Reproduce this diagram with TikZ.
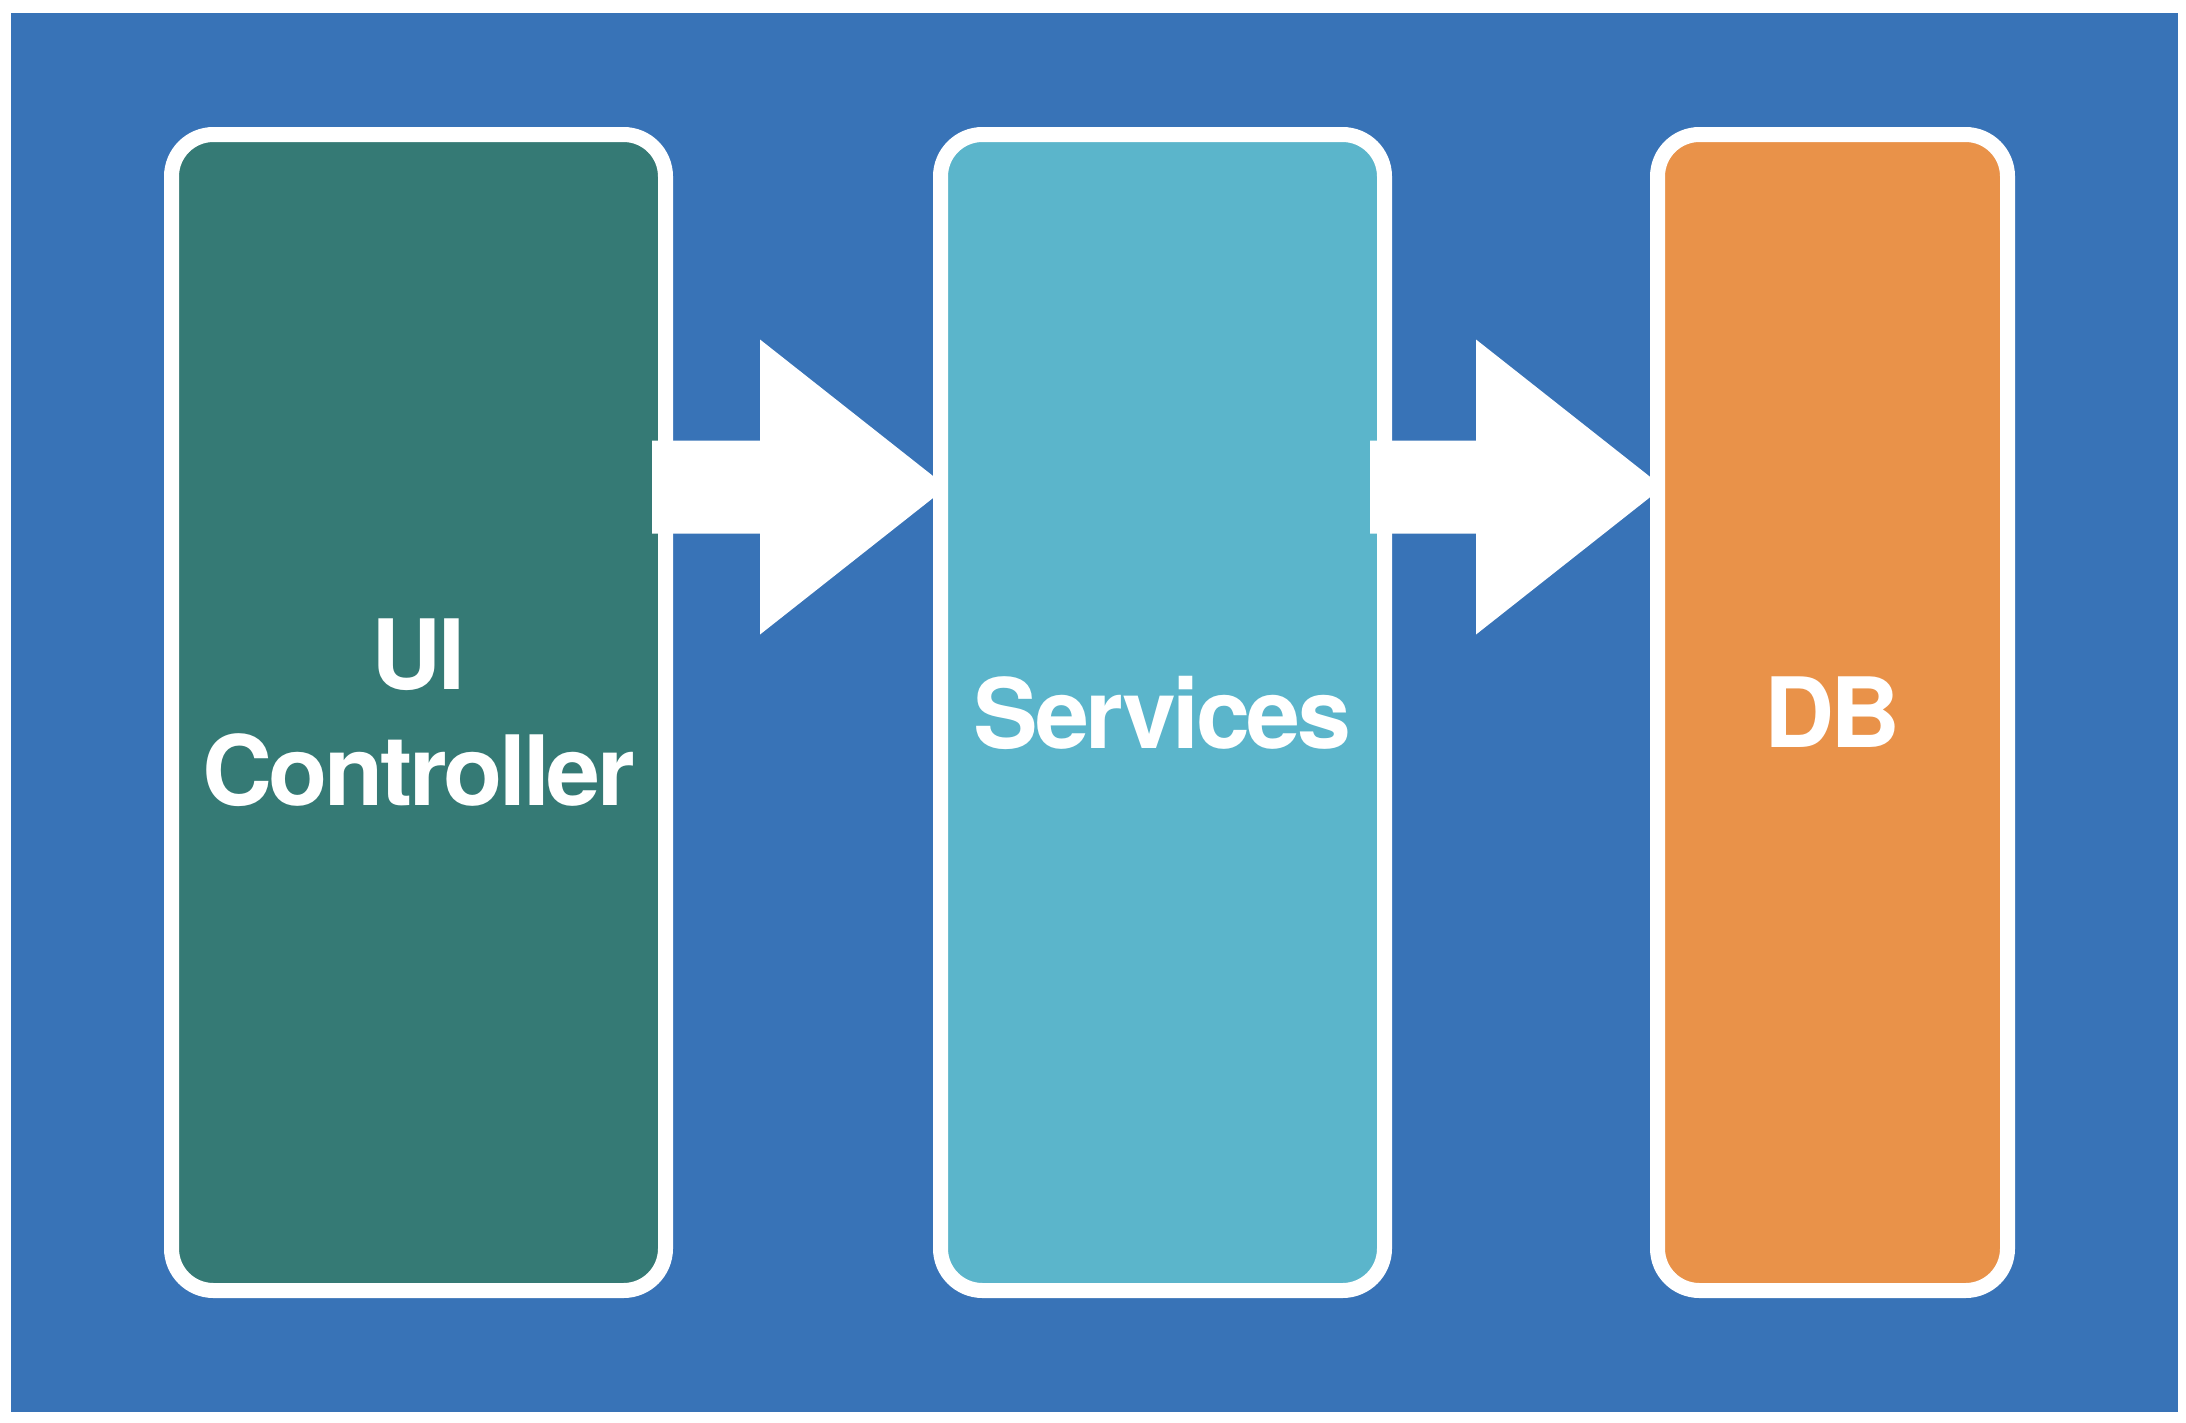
\documentclass[tikz,border=0pt]{standalone}
\usepackage{fontspec}
\setmainfont{TeX Gyre Heros}
\newfontfamily\lblfont{TeX Gyre Heros}[LetterSpace=-3.5]
\usetikzlibrary{calc}
\definecolor{bgblue}{HTML}{3873B7}
\definecolor{uiteal}{HTML}{357A75}
\definecolor{svcblue}{HTML}{5BB5CB}
\definecolor{dborange}{HTML}{E99249}
\begin{document}
\begin{tikzpicture}[x=1pt,y=-1pt,
  box/.style={rectangle, rounded corners=42pt, draw=white, line width=15pt,
    inner sep=0pt, outer sep=0pt, minimum height=1156pt, text=white,
    font=\lblfont\bfseries\fontsize{97}{116}\selectfont, align=center},
  blockarrow/.style={fill=white, to path={
    let \p1=(\tikztostart), \p2=(\tikztotarget) in
    (\x1,{\y1+46.5pt}) -- ({\x2-187pt},{\y1+46.5pt}) -- ({\x2-187pt},{\y1+147.5pt})
    -- (\x2,\y1) -- ({\x2-187pt},{\y1-147.5pt}) -- ({\x2-187pt},{\y1-46.5pt})
    -- (\x1,{\y1-46.5pt}) -- cycle}}]
  \useasboundingbox (0,0) rectangle (2186,1422);
  \fill[white] (0,0) rectangle (2186,1422);
  \fill[bgblue] (11,13) rectangle (2178,1412);
  \node[box, fill=uiteal, minimum width=494pt] (ui) at (418.5,712.5) {UI\\Controller};
  \node[box, fill=svcblue, minimum width=444pt] (svc) at (1162.5,712.5) {Services};
  \node[box, fill=dborange, minimum width=350pt] (db) at (1832.5,712.5) {DB};
  \coordinate (row) at (0,487);
  \coordinate (t1) at ($(ui.east |- row)+(-13.5,0)$);
  \coordinate (h1) at ($(svc.west |- row)+(6.5,0)$);
  \coordinate (t2) at ($(svc.east |- row)+(-14.5,0)$);
  \coordinate (h2) at ($(db.west |- row)+(5.5,0)$);
  \fill[blockarrow] (t1) to (h1);
  \fill[blockarrow] (t2) to (h2);
\end{tikzpicture}
\end{document}
